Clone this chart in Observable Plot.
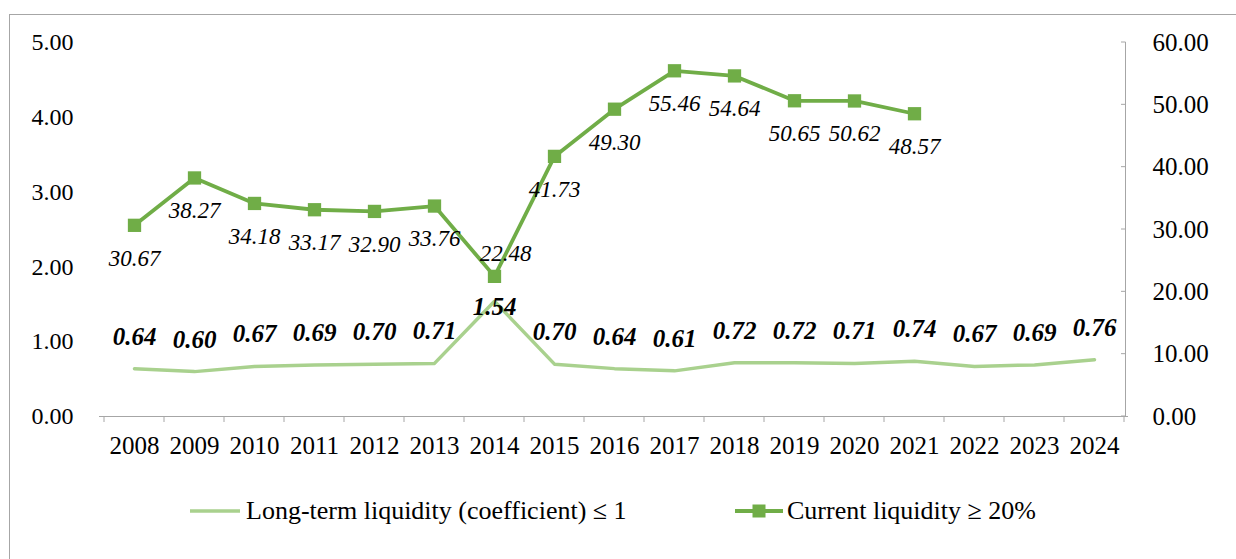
<!DOCTYPE html>
<html>
<head>
<meta charset="utf-8">
<script src="https://cdn.jsdelivr.net/npm/d3@7"></script>
<script src="https://cdn.jsdelivr.net/npm/@observablehq/plot@0.6"></script>
</head>
<body style="margin:0;padding:0;background:#fff;width:1236px;height:559px;position:relative;overflow:hidden;font-family:'Liberation Serif'">
<div id="frame" style="position:absolute;left:9px;top:14px;width:1240px;height:560px;border:1px solid #a6a6a6"></div>
<div id="chart" style="position:absolute;left:0;top:0"></div>
<div id="legend" style="position:absolute;top:496px;left:0;width:1236px;height:30px;font-size:26px;color:#000;font-family:'Liberation Serif'"></div>
<script>
const years = ["2008","2009","2010","2011","2012","2013","2014","2015","2016","2017","2018","2019","2020","2021","2022","2023","2024"];
const longTerm = [0.64,0.60,0.67,0.69,0.70,0.71,1.54,0.70,0.64,0.61,0.72,0.72,0.71,0.74,0.67,0.69,0.76];
const current = [30.67,38.27,34.18,33.17,32.90,33.76,22.48,41.73,49.30,55.46,54.64,50.65,50.62,48.57,null,null,null];
const leftTicks = [0,1,2,3,4,5];
const rightTicks = [0,10,20,30,40,50,60];
const seriesNames = ["Long-term liquidity (coefficient) ≤ 1", "Current liquidity ≥ 20%"];

const lightGreen = "#a9d18e";
const darkGreen = "#70ad47";
const axisGray = "#a6a6a6";
const ratio = 5 / 60;

const ltData = years.map((y, i) => ({year: y, v: longTerm[i]}));
const cuData = years.map((y, i) => ({year: y, v: current[i], s: current[i] == null ? null : current[i] * ratio})).filter(d => d.v != null);
const ltMax = d3.max(longTerm);
const cuMin = d3.min(cuData, d => d.v);

const font = "Liberation Serif";

const chart = Plot.plot({
  width: 1236,
  height: 470,
  marginLeft: 99,
  marginRight: 108,
  marginTop: 42,
  marginBottom: 54,
  style: "font-family: 'Liberation Serif'; font-size: 24px; color: #000; background: transparent; overflow: visible;",
  x: {type: "band", domain: years, padding: 0, align: 0.5},
  y: {domain: [0, 5], ticks: leftTicks},
  marks: [
    Plot.axisY(leftTicks, {anchor: "left", tickSize: 0, tickPadding: 26, tickFormat: d => d.toFixed(2), fontSize: 24, fontFamily: font, label: null}),
    Plot.axisY(rightTicks.map(d => d * ratio), {anchor: "right", tickSize: 0, tickPadding: 24, fill: "#000", tickFormat: d => (d / ratio).toFixed(2), fontSize: 25, fontFamily: font, label: null, textAnchor: "start"}),
    Plot.axisX({anchor: "bottom", tickSize: 0, tickPadding: 20, fontSize: 25, fontFamily: font, label: null}),
    Plot.ruleY([0], {stroke: axisGray, strokeWidth: 1}),
    Plot.line(ltData, {x: "year", y: "v", stroke: lightGreen, strokeWidth: 3.5}),
    Plot.line(cuData, {x: "year", y: "s", stroke: darkGreen, strokeWidth: 3.8}),
    Plot.dot(cuData, {x: "year", y: "s", symbol: "square", r: 7.5, fill: darkGreen, stroke: "none"}),
    Plot.text(ltData.filter(d => d.v !== ltMax), {x: "year", y: "v", text: d => d.v.toFixed(2), dy: -32, fontWeight: "bold", fontStyle: "italic", fontSize: 25, fontFamily: font, fill: "#000"}),
    Plot.text(ltData.filter(d => d.v === ltMax), {x: "year", y: "v", text: d => d.v.toFixed(2), dy: 6, fontWeight: "bold", fontStyle: "italic", fontSize: 25, fontFamily: font, fill: "#000"}),
    Plot.text(cuData.filter(d => d.v !== cuMin), {x: "year", y: "s", text: d => d.v.toFixed(2), dy: 33, fontStyle: "italic", fontSize: 23, fontFamily: font, fill: "#000"}),
    Plot.text(cuData.filter(d => d.v === cuMin), {x: "year", y: "s", text: d => d.v.toFixed(2), dx: 11, dy: -23, fontStyle: "italic", fontSize: 23, fontFamily: font, fill: "#000"})
  ]
});
document.getElementById("chart").appendChild(chart);

const svg = d3.select(chart);
svg.attr("font-family", font).style("font-family", "'Liberation Serif'");
svg.selectAll("g").each(function() { if (this.getAttribute("font-family")) this.setAttribute("font-family", font); });
svg.selectAll("text").style("font-family", "'Liberation Serif'");

// axis lines and tick marks drawn from the chart's own scales (apply gives band start)
const xs = chart.scale("x");
const ys = chart.scale("y");
const xRight = xs.apply(years[years.length - 1]) + xs.bandwidth;
const y0 = ys.apply(0);
const bounds = years.map(y => xs.apply(y)).concat([xRight]);
const g = svg.append("g");
g.selectAll("line.bt").data(bounds).join("line")
  .attr("x1", d => d).attr("x2", d => d).attr("y1", y0).attr("y2", y0 + 6)
  .attr("stroke", axisGray);
g.append("line").attr("x1", xRight + 1.5).attr("x2", xRight + 1.5)
  .attr("y1", ys.apply(5)).attr("y2", y0).attr("stroke", axisGray);
g.selectAll("line.rt").data(rightTicks).join("line")
  .attr("x1", xRight - 3).attr("x2", xRight + 1.5)
  .attr("y1", d => ys.apply(d * ratio)).attr("y2", d => ys.apply(d * ratio))
  .attr("stroke", axisGray);

// legend
const legend = document.getElementById("legend");
const item1 = document.createElement("div");
item1.setAttribute("style", "position:absolute;top:0;left:188px;display:flex;align-items:center;height:30px");
item1.innerHTML = `<svg width="54" height="12" style="margin-right:4px"><line x1="2" x2="52" y1="6" y2="6" stroke="${lightGreen}" stroke-width="3.5"/></svg><span style="font-family:'Liberation Serif';font-size:26px">${seriesNames[0]}</span>`;
const item2 = document.createElement("div");
item2.setAttribute("style", "position:absolute;top:0;left:733px;display:flex;align-items:center;height:30px");
item2.innerHTML = `<svg width="52" height="14" style="margin-right:2px"><line x1="2" x2="50" y1="7" y2="7" stroke="${darkGreen}" stroke-width="3.8"/><rect x="19.5" y="0.5" width="13" height="13" fill="${darkGreen}"/></svg><span style="font-family:'Liberation Serif';font-size:26px">${seriesNames[1]}</span>`;
legend.appendChild(item1);
legend.appendChild(item2);
</script>
</body>
</html>
